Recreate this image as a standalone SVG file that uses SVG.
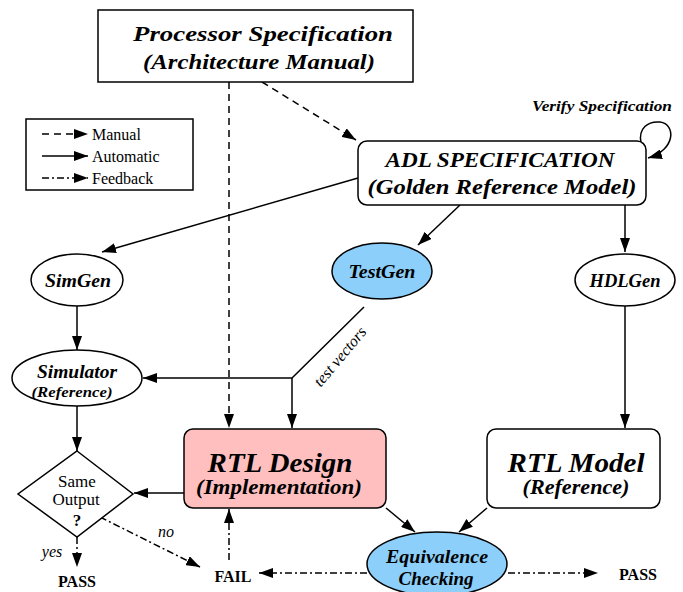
<svg xmlns="http://www.w3.org/2000/svg" width="683" height="592" viewBox="0 0 683 592">
<defs>
<marker id="ah" viewBox="0 0 14 10" refX="14" refY="5" markerWidth="14" markerHeight="10" markerUnits="userSpaceOnUse" orient="auto">
<path d="M0,0 L14,5 L0,10 Z" fill="#000"/>
</marker>
</defs>
<style>
.b{font-family:'Liberation Serif','Times New Roman',serif;font-weight:bold;font-style:italic;text-anchor:middle;fill:#000}
.r{font-family:'Liberation Serif','Times New Roman',serif;fill:#000}
.n{fill:#fff;stroke:#000;stroke-width:1.5}
.l{fill:none;stroke:#000;stroke-width:1.5}
.auto{marker-end:url(#ah)}
.man{stroke-dasharray:7,5}
.fb{stroke-dasharray:7,3,2,3}
</style>
<rect x="0" y="0" width="683" height="592" fill="#fff"/>

<g id="legend">
<rect x="26" y="119" width="167" height="71" class="n" stroke-width="1"/>
<line x1="42" y1="134" x2="88" y2="134" class="l man auto"/>
<line x1="42" y1="156" x2="88" y2="156" class="l auto"/>
<line x1="42" y1="178" x2="88" y2="178" class="l fb auto"/>
<text x="92" y="140" class="r" font-size="16">Manual</text>
<text x="92" y="162" class="r" font-size="16">Automatic</text>
<text x="92" y="184" class="r" font-size="16">Feedback</text>
</g>

<g id="connectors">
<line x1="262" y1="82" x2="356" y2="140" class="l man auto"/>
<line x1="229" y1="82" x2="229" y2="428" class="l man auto"/>
<path d="M641,143 C638,128 648,121 660,122 C676,124 676,150 648,158" class="l auto"/>
<line x1="358" y1="178" x2="102" y2="252" class="l auto"/>
<line x1="460" y1="205" x2="418" y2="245" class="l auto"/>
<line x1="625" y1="205" x2="625" y2="252" class="l auto"/>
<line x1="77" y1="306" x2="77" y2="350" class="l auto"/>
<polyline points="364,307 292,378 143,378" class="l auto"/>
<line x1="292" y1="378" x2="292" y2="428" class="l auto"/>
<line x1="625" y1="306" x2="625" y2="428" class="l auto"/>
<line x1="77" y1="406" x2="77" y2="451" class="l auto"/>
<line x1="184" y1="493" x2="134" y2="493" class="l auto"/>
<line x1="77" y1="537" x2="77" y2="567" class="l fb auto"/>
<line x1="100" y1="517" x2="200" y2="567" class="l fb auto"/>
<line x1="229" y1="560" x2="229" y2="509" class="l fb auto"/>
<line x1="386" y1="508" x2="415" y2="532" class="l auto"/>
<line x1="487" y1="508" x2="459" y2="532" class="l auto"/>
<line x1="367" y1="573" x2="259" y2="573" class="l fb auto"/>
<line x1="508" y1="573" x2="598" y2="573" class="l fb auto"/>
<text x="0" y="0" class="r" font-size="16" font-style="italic" text-anchor="middle" transform="translate(344,360) rotate(-50)">test vectors</text>
<text x="52" y="557" class="r" font-size="16" font-style="italic" text-anchor="middle">yes</text>
<text x="166" y="537" class="r" font-size="16" font-style="italic" text-anchor="middle">no</text>
</g>

<g id="processor">
<rect x="98" y="10" width="315" height="72" class="n"/>
<text x="263" y="41" class="b" font-size="22" textLength="260" lengthAdjust="spacingAndGlyphs">Processor Specification</text>
<text x="259" y="69" class="b" font-size="22" textLength="232" lengthAdjust="spacingAndGlyphs">(Architecture Manual)</text>
</g>

<g id="adl">
<rect x="358" y="141" width="288" height="64" rx="9" class="n"/>
<text x="500" y="167" class="b" font-size="20" textLength="229" lengthAdjust="spacingAndGlyphs">ADL SPECIFICATION</text>
<text x="502" y="194" class="b" font-size="20" textLength="269" lengthAdjust="spacingAndGlyphs">(Golden Reference Model)</text>
<text x="602" y="111" class="b" font-size="14" textLength="140" lengthAdjust="spacingAndGlyphs">Verify Specification</text>
</g>

<g id="simgen">
<ellipse cx="77" cy="280" rx="46" ry="26" class="n"/>
<text x="78" y="287" class="b" font-size="19" textLength="66" lengthAdjust="spacingAndGlyphs">SimGen</text>
</g>

<g id="testgen">
<ellipse cx="382" cy="271" rx="50" ry="28" class="n" style="fill:#8ccffa"/>
<text x="382" y="278" class="b" font-size="19" textLength="67" lengthAdjust="spacingAndGlyphs">TestGen</text>
</g>

<g id="hdlgen">
<ellipse cx="625" cy="280" rx="50" ry="26" class="n"/>
<text x="625" y="287" class="b" font-size="19" textLength="71" lengthAdjust="spacingAndGlyphs">HDLGen</text>
</g>

<g id="simulator">
<ellipse cx="77" cy="378" rx="65" ry="28" class="n"/>
<text x="77" y="378" class="b" font-size="18" textLength="80" lengthAdjust="spacingAndGlyphs">Simulator</text>
<text x="72" y="397" class="b" font-size="15" textLength="81" lengthAdjust="spacingAndGlyphs">(Reference)</text>
</g>

<g id="rtl-design">
<rect x="184" y="429" width="202" height="79" rx="9" class="n" style="fill:#ffbfbf"/>
<text x="280" y="472" class="b" font-size="28" textLength="145" lengthAdjust="spacingAndGlyphs">RTL Design</text>
<text x="279" y="494" class="b" font-size="20" textLength="166" lengthAdjust="spacingAndGlyphs">(Implementation)</text>
</g>

<g id="rtl-model">
<rect x="487" y="429" width="173" height="79" rx="9" class="n"/>
<text x="576" y="472" class="b" font-size="28" textLength="137" lengthAdjust="spacingAndGlyphs">RTL Model</text>
<text x="576" y="494" class="b" font-size="20" textLength="107" lengthAdjust="spacingAndGlyphs">(Reference)</text>
</g>

<g id="decision">
<polygon points="77,451 133,494 77,537 18,494" class="n"/>
<text x="77" y="487" class="r" font-size="17" text-anchor="middle">Same</text>
<text x="76" y="505" class="r" font-size="17" text-anchor="middle">Output</text>
<text x="77" y="526" class="r" font-size="17" font-weight="bold" text-anchor="middle">?</text>
</g>

<g id="equivalence">
<ellipse cx="437" cy="564" rx="70" ry="32" class="n" style="fill:#8ccffa"/>
<text x="437" y="563" class="b" font-size="18" textLength="102" lengthAdjust="spacingAndGlyphs">Equivalence</text>
<text x="436" y="585" class="b" font-size="18" textLength="75" lengthAdjust="spacingAndGlyphs">Checking</text>
</g>

<g id="results">
<text x="77" y="587" class="r" font-size="16" font-weight="bold" text-anchor="middle">PASS</text>
<text x="233" y="582" class="r" font-size="16" font-weight="bold" text-anchor="middle">FAIL</text>
<text x="638" y="580" class="r" font-size="16" font-weight="bold" text-anchor="middle">PASS</text>
</g>
</svg>
